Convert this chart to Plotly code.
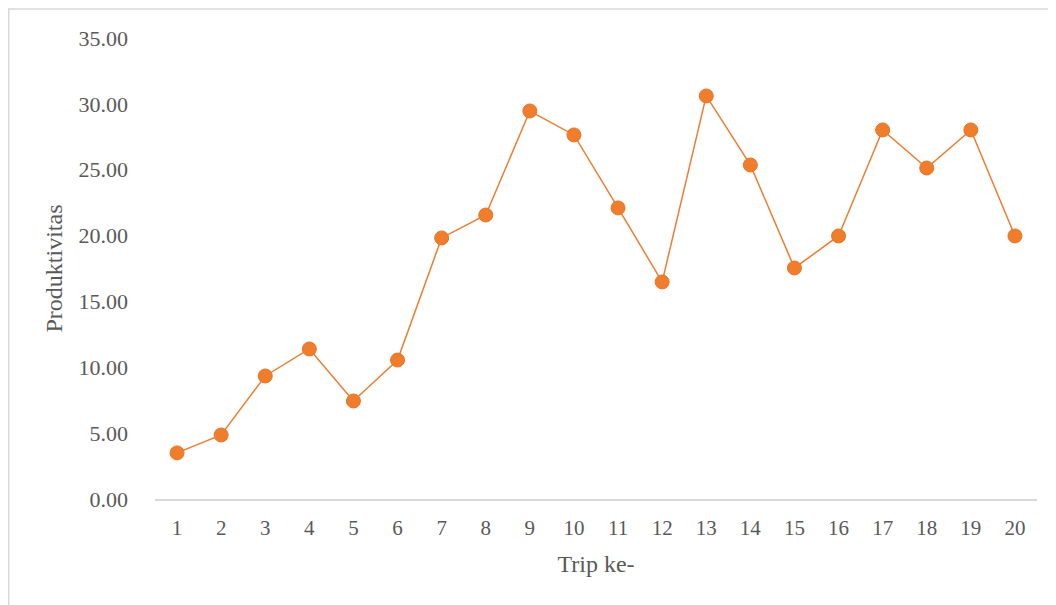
import plotly.graph_objects as go

trips = [str(i) for i in range(1, 21)]
produktivitas = [3.50, 4.86, 9.34, 11.39, 7.44, 10.55, 19.82, 21.56, 29.46, 27.64,
                 22.10, 16.48, 30.60, 25.36, 17.54, 19.97, 28.02, 25.13, 28.02, 19.97]
y_ticks = [0, 5, 10, 15, 20, 25, 30, 35]
y_labels = ["%.2f" % v for v in y_ticks]

FONT = "Liberation Serif"
TXT = "#595959"

fig = go.Figure()
fig.add_trace(go.Scatter(
    x=trips, y=produktivitas, mode="lines+markers",
    line=dict(color="#ED7D31", width=1.5),
    marker=dict(size=14, color="#F07D2C", line=dict(color="#E57628", width=1)),
    showlegend=False, hoverinfo="x+y",
))

W, H = 1048, 597
L, R, T, B = 147, 19, 30, 106
pw, ph = W - L - R, H - T - B

fig.update_layout(
    width=W, height=H,
    margin=dict(l=L, r=R, t=T, b=B),
    paper_bgcolor="white", plot_bgcolor="white",
    font=dict(family=FONT, color=TXT, size=22),
    xaxis=dict(
        type="category", showgrid=False, zeroline=False,
        showline=True, linecolor="#D9D9D9", linewidth=1.5,
        ticks="", tickfont=dict(size=21, color=TXT, family=FONT),
        ticklabelstandoff=9,
        title=dict(text="Trip ke-", font=dict(size=24, color=TXT, family=FONT), standoff=16),
        range=[-0.5, 19.5],
    ),
    yaxis=dict(
        range=[0, 35], tickvals=y_ticks, ticktext=y_labels,
        showgrid=False, zeroline=False, showline=False, ticks="",
        tickfont=dict(size=22, color=TXT, family=FONT),
        ticklabelstandoff=26,
        title=dict(text="Produktivitas", font=dict(size=24, color=TXT, family=FONT), standoff=9),
    ),
    shapes=[
        dict(type="line", xref="paper", yref="paper",
             x0=(0 - L) / pw, x1=(W - L) / pw, y0=(H - B - 1) / ph, y1=(H - B - 1) / ph,
             line=dict(color="#D9D9D9", width=1.5)),
        dict(type="line", xref="paper", yref="paper",
             x0=(0.75 - L) / pw, x1=(0.75 - L) / pw, y0=(H - B - 1) / ph, y1=-B / ph,
             line=dict(color="#D9D9D9", width=1.5)),
    ],
)

fig.write_html("out.html")
